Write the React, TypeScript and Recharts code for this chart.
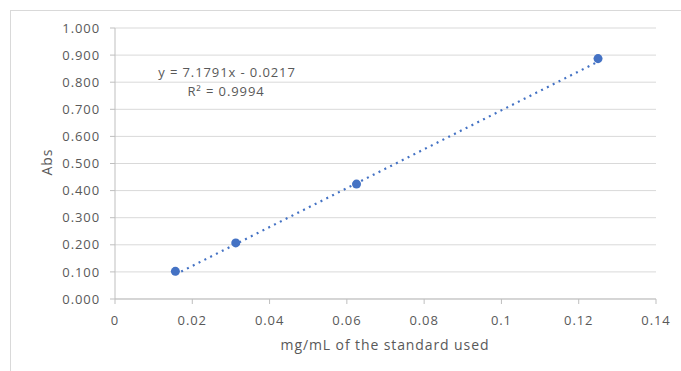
import React from 'react';
import { ScatterChart, Scatter, XAxis, YAxis, ZAxis, CartesianGrid } from 'recharts';

// standard curve: concentration (mg/mL) vs absorbance
const concentrations = [0.015625, 0.03125, 0.0625, 0.125];
const absorbances = [0.102, 0.207, 0.424, 0.887];

// linear trendline ends (y = 7.1791x - 0.0217)
const trendX = [0.015625, 0.125];
const trendY = [0.0905, 0.8757];

const xTicks = [0, 0.02, 0.04, 0.06, 0.08, 0.1, 0.12, 0.14];
const yTicks = [0, 0.1, 0.2, 0.3, 0.4, 0.5, 0.6, 0.7, 0.8, 0.9, 1.0];

const equationText = 'y = 7.1791x - 0.0217';
const rSquaredText = 'R² = 0.9994';
const xTitle = 'mg/mL of the standard used';
const yTitle = 'Abs';

const points = concentrations.map((x, i) => ({ x, y: absorbances[i] }));
const trend = trendX.map((x, i) => ({ x, y: trendY[i] }));

const BLUE = '#4472C4';
const TEXT = '#595959';
const FONT = '"Open Sans", sans-serif';

const tickStyle = { fontSize: 13, fill: TEXT, fontFamily: FONT, letterSpacing: 0.9 };

export default function App() {
  return (
    <div
      style={{
        position: 'fixed',
        left: 0,
        top: 0,
        width: 681,
        height: 371,
        overflow: 'hidden',
        background: '#fff',
      }}
    >
      <div
        style={{
          position: 'absolute',
          left: 10,
          top: 10,
          width: 700,
          height: 400,
          border: '1px solid #d9d9d9',
        }}
      />
      <div style={{ position: 'absolute', left: 0, top: 0 }}>
        <ScatterChart width={681} height={371} margin={{ top: 28, right: 25, left: 0, bottom: 0 }}>
          <CartesianGrid horizontal vertical={false} stroke="#d9d9d9" strokeWidth={1} />
          <XAxis
            type="number"
            dataKey="x"
            domain={[0, 0.14]}
            ticks={xTicks}
            height={72}
            tick={tickStyle}
            tickLine={{ stroke: '#bfbfbf' }}
            axisLine={{ stroke: '#bfbfbf' }}
            tickSize={5}
            tickMargin={12}
            tickFormatter={(v: number) => `${+v.toFixed(2)}`}
          />
          <YAxis
            type="number"
            dataKey="y"
            domain={[0, 1]}
            ticks={yTicks}
            width={115}
            tick={tickStyle}
            tickLine={{ stroke: '#bfbfbf' }}
            axisLine={{ stroke: '#bfbfbf' }}
            tickSize={5}
            tickMargin={10}
            tickFormatter={(v: number) => v.toFixed(3)}
          />
          <ZAxis range={[70, 70]} />
          <Scatter
            data={trend}
            isAnimationActive={false}
            line={{ stroke: BLUE, strokeWidth: 2.2, strokeDasharray: '2 4.5' }}
            shape={() => <g />}
          />
          <Scatter data={points} fill={BLUE} shape="circle" isAnimationActive={false} />
        </ScatterChart>
      </div>
      <svg
        width={681}
        height={371}
        style={{ position: 'absolute', left: 0, top: 0, pointerEvents: 'none' }}
      >
        <g fontFamily={FONT} fill={TEXT} letterSpacing={0.9}>
          <text x={227} y={76.5} fontSize={13} textAnchor="middle">
            {equationText}
          </text>
          <text x={226} y={95.5} fontSize={13} textAnchor="middle">
            {rSquaredText}
          </text>
          <text x={385} y={350} fontSize={14} textAnchor="middle">
            {xTitle}
          </text>
          <text
            x={52}
            y={162}
            fontSize={14}
            textAnchor="middle"
            transform="rotate(-90 52 162)"
          >
            {yTitle}
          </text>
        </g>
      </svg>
    </div>
  );
}
